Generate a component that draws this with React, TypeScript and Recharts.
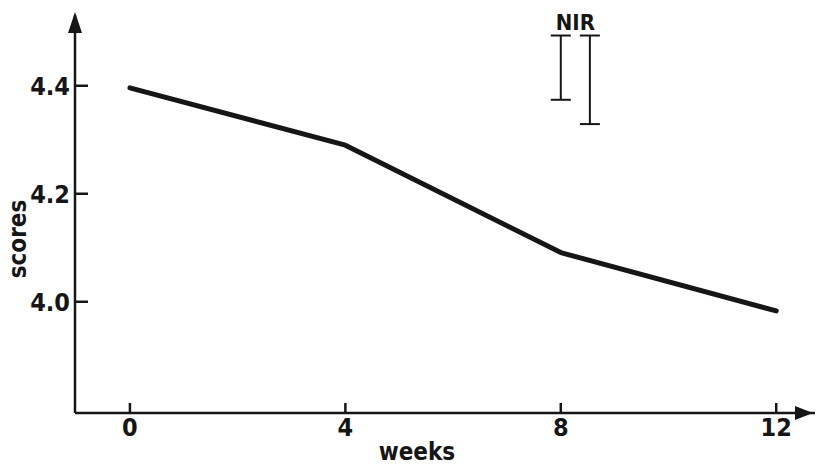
import { ComposedChart, Line, Scatter, ErrorBar, XAxis, YAxis, ReferenceDot, Label } from "recharts";

const weeks = [0, 4, 8, 12];
const scores = [4.396, 4.29, 4.091, 3.983];
const xTicks = [0, 4, 8, 12];
const yTicks = [4.0, 4.2, 4.4];

// NIR bars: position (weeks), lower end, upper end
const nirWeeks = [8, 8.54];
const nirLow = [4.374, 4.329];
const nirHigh = [4.493, 4.493];

const X_DOMAIN: [number, number] = [-1.02, 12.72];
const Y_DOMAIN: [number, number] = [3.794, 4.531];

const scoreData = weeks.map((w, i) => ({ week: w, score: scores[i] }));
const nirData = nirWeeks.map((w, i) => ({
  week: w,
  top: nirHigh[i],
  err: [nirHigh[i] - nirLow[i], 0],
}));
// inward tick marks sit on the axes
const xTickMarks = xTicks.map((t) => ({ week: t, pos: Y_DOMAIN[0] }));
const yTickMarks = yTicks.map((t) => ({ week: X_DOMAIN[0], pos: t }));

const FONT = "'DejaVu Sans Condensed', 'DejaVu Sans', sans-serif";
const INK = "#161616";

const RightArrow = (props: any) => {
  const { cx, cy } = props;
  return <path d={`M${cx - 20},${cy - 7} L${cx - 2},${cy} L${cx - 20},${cy + 7} Z`} fill={INK} />;
};

const UpArrow = (props: any) => {
  const { cx, cy } = props;
  return <path d={`M${cx - 7},${cy + 18} L${cx},${cy - 3} L${cx + 7},${cy + 18} Z`} fill={INK} />;
};

const XTickMark = (props: any) => {
  const { cx, cy } = props;
  return <line x1={cx} y1={cy} x2={cx} y2={cy - 10} stroke={INK} strokeWidth={2.5} />;
};

const YTickMark = (props: any) => {
  const { cx, cy } = props;
  return <line x1={cx} y1={cy} x2={cx + 13} y2={cy} stroke={INK} strokeWidth={2.5} />;
};

const ScoresLabel = (props: any) => {
  const { viewBox } = props;
  const x = viewBox.x + 3;
  const y = viewBox.y + viewBox.height / 2 + 25;
  return (
    <text
      x={x}
      y={y}
      transform={`rotate(-90 ${x} ${y})`}
      textAnchor="middle"
      dominantBaseline="central"
      fontSize={24}
      fontWeight="bold"
      fontFamily={FONT}
      fill={INK}
    >
      scores
    </text>
  );
};

export default function App() {
  const tickStyle = { fontSize: 25, fontFamily: FONT, fill: INK, fontWeight: "bold" };
  return (
    <div style={{ position: "absolute", left: 0, top: 0, background: "#fff" }}>
      <ComposedChart width={821} height={465} margin={{ top: 15, right: 6, left: 15, bottom: 2 }}>
        <XAxis
          dataKey="week"
          type="number"
          domain={X_DOMAIN}
          ticks={xTicks}
          allowDataOverflow
          tickLine={false}
          tickSize={0}
          tickMargin={5}
          axisLine={{ stroke: INK, strokeWidth: 2.5 }}
          tick={tickStyle}
          height={50}
        >
          <Label
            value="weeks"
            position="insideBottom"
            offset={3}
            dx={-28}
            fontSize={24}
            fontWeight="bold"
            fontFamily={FONT}
            fill={INK}
          />
        </XAxis>
        <YAxis
          type="number"
          domain={Y_DOMAIN}
          ticks={yTicks}
          allowDataOverflow
          tickLine={false}
          tickSize={0}
          tickMargin={5}
          axisLine={{ stroke: INK, strokeWidth: 2.5 }}
          tick={tickStyle}
          tickFormatter={(v: number) => v.toFixed(1)}
          width={60}
        >
          <Label content={<ScoresLabel />} position="insideLeft" />
        </YAxis>

        <Scatter data={xTickMarks} dataKey="pos" shape={<XTickMark />} isAnimationActive={false} />
        <Scatter data={yTickMarks} dataKey="pos" shape={<YTickMark />} isAnimationActive={false} />

        <ReferenceDot x={X_DOMAIN[1]} y={Y_DOMAIN[0]} r={0} shape={<RightArrow />} ifOverflow="visible" />
        <ReferenceDot x={X_DOMAIN[0]} y={Y_DOMAIN[1]} r={0} shape={<UpArrow />} ifOverflow="visible" />

        <Line
          data={scoreData}
          dataKey="score"
          type="linear"
          stroke={INK}
          strokeWidth={5}
          strokeLinecap="round"
          strokeLinejoin="round"
          dot={false}
          activeDot={false}
          isAnimationActive={false}
        />

        <Scatter data={nirData} dataKey="top" shape={() => null} isAnimationActive={false}>
          <ErrorBar dataKey="err" direction="y" width={10} stroke={INK} strokeWidth={2} isAnimationActive={false} />
        </Scatter>

        <ReferenceDot x={(nirWeeks[0] + nirWeeks[1]) / 2} y={nirHigh[0]} r={0} ifOverflow="visible">
          <Label
            value="NIR"
            position="top"
            offset={6}
            fontSize={22}
            fontWeight="bold"
            fontFamily={FONT}
            fill={INK}
          />
        </ReferenceDot>
      </ComposedChart>
    </div>
  );
}
